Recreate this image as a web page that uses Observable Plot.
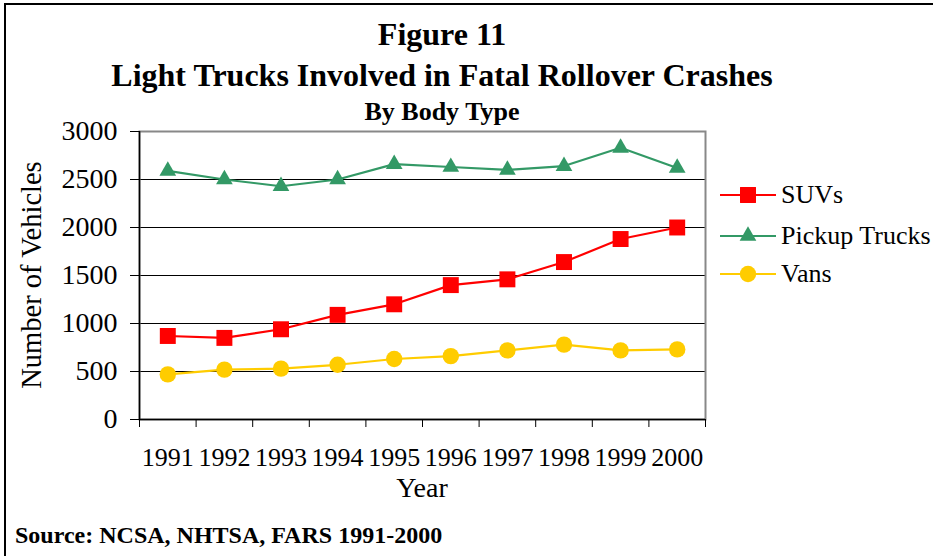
<!DOCTYPE html>
<html><head><meta charset="utf-8">
<script src="https://cdn.jsdelivr.net/npm/d3@7"></script>
<script src="https://cdn.jsdelivr.net/npm/@observablehq/plot@0.6"></script>
<style>
body{margin:0;background:#fff;}
#wrap{position:relative;width:933px;height:556px;overflow:hidden;font-family:"Liberation Serif","Times New Roman",serif;color:#000;background:#fff;}
.t{position:absolute;line-height:1;white-space:nowrap;}
.c{left:442px;transform:translateX(-50%);font-weight:bold;}
#plot{position:absolute;left:0;top:0;}
.leg{position:absolute;left:720px;height:30px;display:flex;align-items:center;font-size:26px;line-height:1;}
.leg svg{margin-right:5px;}
</style></head><body>
<div id="wrap">
  <div style="position:absolute;left:4px;top:3px;width:1000px;height:600px;border-left:2px solid #000;border-top:2px solid #000;"></div>
  <div id="plot"></div>
  <div class="t c" style="top:18px;font-size:32px;">Figure 11</div>
  <div class="t c" style="top:59px;font-size:32px;">Light Trucks Involved in Fatal Rollover Crashes</div>
  <div class="t c" style="top:99px;font-size:26px;">By Body Type</div>
  <div class="t" style="left:32px;top:275px;font-size:28.5px;transform:translate(-50%,-50%) rotate(-90deg);">Number of Vehicles</div>
  <div class="t" style="left:422px;top:474px;font-size:28px;transform:translateX(-50%);">Year</div>
  <div class="t" style="left:15px;top:523px;font-size:24px;font-weight:bold;">Source: NCSA, NHTSA, FARS 1991-2000</div>
  <div id="legend"></div>
</div>
<script>
const years = [1991, 1992, 1993, 1994, 1995, 1996, 1997, 1998, 1999, 2000];
const seriesNames = ["SUVs", "Pickup Trucks", "Vans"];
const suvs    = [870, 850, 940, 1090, 1200, 1400, 1460, 1640, 1880, 2000];
const pickups = [2590, 2500, 2430, 2500, 2660, 2630, 2600, 2640, 2830, 2620];
const vans    = [470, 520, 530, 570, 630, 660, 720, 780, 720, 730];
const yTicks  = [0, 500, 1000, 1500, 2000, 2500, 3000];
const colors  = ["#FF0000", "#339966", "#FFCC00"];
const symbols = ["square", "triangle", "circle"];
const radii   = [9, 6.2, 8.2];

const values = [suvs, pickups, vans];
const data = [];
seriesNames.forEach((s, i) => years.forEach((y, j) => data.push({series: s, year: y, value: values[i][j]})));
const bounds = years.map(y => y - 0.5).concat([years[years.length - 1] + 0.5]);

const marks = [
  Plot.ruleY(yTicks.filter(v => v > 0 && v < 3000), {stroke: "#000", strokeWidth: 1}),
  Plot.frame({stroke: "#888", strokeWidth: 2}),
  Plot.ruleX([bounds[0]], {stroke: "#000", strokeWidth: 1.5}),
  Plot.ruleY([0], {stroke: "#000", strokeWidth: 1.5}),
  Plot.axisY({ticks: yTicks, tickSize: 9, tickPadding: 13, fontSize: 28, label: null, tickFormat: d => String(d)}),
  Plot.axisX({ticks: bounds, tickSize: 8, tickFormat: () => "", label: null}),
  Plot.axisX({ticks: years, tickSize: 0, tickPadding: 28, fontSize: 26, label: null, tickFormat: d => String(d)}),
  Plot.line(data, {x: "year", y: "value", z: "series", stroke: "series", strokeWidth: 2.2})
];
seriesNames.forEach((s, i) => {
  marks.push(Plot.dot(data.filter(d => d.series === s), {x: "year", y: "value", symbol: () => symbols[i], fill: colors[i], stroke: "none", r: radii[i]}));
});

const chart = Plot.plot({
  width: 933, height: 556,
  marginLeft: 139, marginRight: 228, marginTop: 131, marginBottom: 137,
  style: {fontFamily: "'Liberation Serif','Times New Roman',serif", color: "#000", background: "transparent", overflow: "visible"},
  x: {domain: [bounds[0], bounds[bounds.length - 1]]},
  y: {domain: [0, 3000]},
  color: {domain: seriesNames, range: colors},
  symbol: {domain: symbols, range: symbols},
  marks
});
document.getElementById("plot").appendChild(chart);

// legend
const legTops = [180, 221, 259];
const legend = document.getElementById("legend");
seriesNames.forEach((s, i) => {
  const div = document.createElement("div");
  div.className = "leg";
  div.style.top = legTops[i] + "px";
  const sym = d3.symbol(i === 0 ? d3.symbolSquare : i === 1 ? d3.symbolTriangle : d3.symbolCircle, Math.PI * radii[i] * radii[i])();
  div.innerHTML = `<svg width="56" height="30"><line x1="0" x2="56" y1="15" y2="15" stroke="${colors[i]}" stroke-width="2.2"/><path d="${sym}" transform="translate(28,15)" fill="${colors[i]}"/></svg><span>${s}</span>`;
  legend.appendChild(div);
});
</script>
</body></html>
